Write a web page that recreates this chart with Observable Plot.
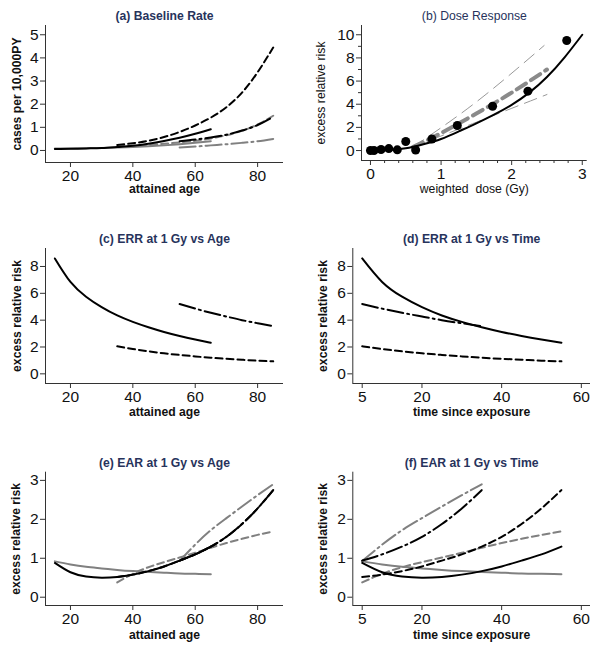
<!DOCTYPE html>
<html><head><meta charset="utf-8">
<script src="https://cdn.jsdelivr.net/npm/d3@7"></script>
<script src="https://cdn.jsdelivr.net/npm/@observablehq/plot@0.6"></script>
<style>
body{margin:0;background:#fff}
#chart{position:relative;width:601px;height:652px;overflow:hidden;background:#fff}
#chart svg{position:absolute;overflow:visible}
</style>
</head><body><div id="chart"></div>
<script>
// ---------- data ----------
const ageSolid   = [15,20,25,30,35,40,45,50,55,60,65];
const ageDashed  = [35,40,45,50,55,60,65,70,75,80,85];
const ageDashDot = [55,60,65,70,75,80,85];
const timeLong   = [5,10,15,20,25,30,35,40,45,50,55];
const timeShort  = [5,10,15,20,25,30,35];

// (a) baseline rate, cases per 10,000 PY
const baseBlackSolid   = [0.06,0.07,0.09,0.11,0.15,0.2,0.29,0.41,0.55,0.72,0.92];
const baseBlackDashed  = [0.24,0.31,0.42,0.58,0.8,1.08,1.42,1.87,2.5,3.38,4.45];
const baseBlackDashDot = [0.4,0.47,0.56,0.68,0.86,1.1,1.45];
const baseGraySolid    = [0.09,0.09,0.1,0.11,0.13,0.15,0.18,0.22,0.27,0.33,0.4];
const baseGrayDashed   = [0.17,0.2,0.24,0.29,0.35,0.42,0.52,0.66,0.85,1.12,1.5];
const baseGrayDashDot  = [0.13,0.17,0.22,0.27,0.33,0.4,0.5];

// (b) dose response
const binDose = [0.0,0.05,0.15,0.26,0.38,0.5,0.64,0.87,1.23,1.73,2.23,2.78];
const binErr  = [0.0,0.0,0.09,0.17,0.06,0.78,0.05,1.0,2.16,3.83,5.13,9.5];
const fitDose = [0,0.25,0.5,0.75,1,1.25,1.5,1.75,2,2.25,2.5,2.75,3];
const fitErr  = [0,0.05,0.2,0.55,1.0,1.65,2.35,3.1,3.95,5.0,6.35,8.05,10];
const linDose = [0.6,1.0,1.5,2.0,2.5];
const linErr  = [0.3,1.5,3.2,5.0,7.0];
const ciHiDose = [0.6,1.5,2.46];
const ciHiErr  = [0.3,4.2,9.07];
const ciLoDose = [0.6,1.5,2.5];
const ciLoErr  = [0.3,2.45,4.84];

// (c),(d) ERR at 1 Gy
const errSolid   = [8.6,6.85,5.75,4.97,4.35,3.87,3.47,3.12,2.82,2.56,2.32];
const errDashed  = [2.05,1.85,1.68,1.53,1.41,1.3,1.2,1.12,1.05,0.98,0.93];
const errDashDot = [5.2,4.86,4.55,4.27,4.0,3.77,3.55];

// (e),(f) EAR at 1 Gy
const earBlackSolid   = [0.88,0.64,0.53,0.5,0.52,0.58,0.67,0.79,0.94,1.1,1.3];
const earBlackDashed  = [0.52,0.58,0.67,0.79,0.94,1.1,1.3,1.55,1.88,2.28,2.75];
const earBlackDashDot = [0.94,1.1,1.3,1.55,1.88,2.28,2.75];
const earGraySolid    = [0.92,0.84,0.78,0.74,0.7,0.67,0.65,0.63,0.61,0.6,0.59];
const earGrayDashed   = [0.38,0.6,0.77,0.9,1.02,1.14,1.27,1.39,1.5,1.6,1.69];
const earGrayDashDot  = [0.93,1.35,1.72,2.03,2.33,2.62,2.9];

// ---------- styling ----------
const NAVY = "#27335c";
const GRAY = "#808080";
const AX = "#333";
const FONT = '"Liberation Sans", Arial, Helvetica, sans-serif';
const DASH = "7,4";
const DASHDOT = "16,4,2,4";
const TICKFS = 15.5;
const fmt = d => String(d);

const pts = (xs, ys) => xs.map((x, i) => ({x, y: ys[i]}));
const line = (xs, ys, stroke, dash, w = 2) =>
  Plot.line(pts(xs, ys), {x: "x", y: "y", stroke, strokeWidth: w, strokeDasharray: dash, curve: "natural"});

function panel(c) {
  const [mt, mr, mb, ml] = c.margins;
  const marks = [
    Plot.ruleY([c.yDomain[0]], {stroke: AX, strokeWidth: 1}),
    Plot.ruleX([c.xDomain[0]], {stroke: AX, strokeWidth: 1}),
    Plot.axisX({ticks: c.xTicks, tickFormat: fmt, tickSize: 5, tickPadding: 2, label: null, fontSize: TICKFS, stroke: AX}),
    Plot.axisY({ticks: c.yTicks, tickFormat: fmt, tickSize: 5, tickPadding: 2, label: null, fontSize: TICKFS, stroke: AX})
  ];
  if (c.xMinor) marks.push(Plot.axisX({ticks: c.xMinor, tickSize: 3, tickFormat: () => "", label: null, stroke: AX}));
  if (c.yMinor) marks.push(Plot.axisY({ticks: c.yMinor, tickSize: 3, tickFormat: () => "", label: null, stroke: AX}));
  marks.push(...c.marks);
  const bold = c.bold ? "bold" : "normal";
  const common = {text: d => d, fontSize: 12.2, fontWeight: bold, textAnchor: "middle", lineAnchor: "middle"};
  marks.push(
    Plot.text([c.title], {...common, frameAnchor: "top", dy: -9.5, fill: NAVY}),
    Plot.text([c.xLabel], {...common, frameAnchor: "bottom", dy: c.xLabelDy, fill: "#111"}),
    Plot.text([c.yLabel], {...common, frameAnchor: "left", dx: c.yLabelDx, rotate: -90, fill: "#111"})
  );
  const svg = Plot.plot({
    width: c.width, height: c.height,
    marginTop: mt, marginRight: mr, marginBottom: mb, marginLeft: ml,
    x: {domain: c.xDomain},
    y: {domain: c.yDomain},
    style: {fontFamily: FONT, fontSize: TICKFS + "px", color: "#111", background: "transparent"},
    marks
  });
  svg.style.left = c.left + "px";
  svg.style.top = c.top + "px";
  document.getElementById("chart").appendChild(svg);
}

// (a)
panel({
  left: 0, top: 0, width: 300, height: 210, margins: [25, 17, 48, 45],
  xDomain: [12, 88.3], yDomain: [-0.52, 5.4],
  xTicks: [20,40,60,80], yTicks: [0,1,2,3,4,5],
  title: "(a) Baseline Rate", xLabel: "attained age", yLabel: "cases per 10,000PY", bold: true,
  xLabelDy: 27, yLabelDx: -28.8,
  marks: [
    line(ageSolid, baseGraySolid, GRAY, null),
    line(ageDashed, baseGrayDashed, GRAY, DASH),
    line(ageDashDot, baseGrayDashDot, GRAY, DASHDOT),
    line(ageSolid, baseBlackSolid, "black", null),
    line(ageDashed, baseBlackDashed, "black", DASH),
    line(ageDashDot, baseBlackDashDot, "black", DASHDOT)
  ]
});

// (b)
panel({
  left: 300, top: 0, width: 301, height: 210, margins: [25, 14.3, 50, 61],
  xDomain: [-0.127, 3.07], yDomain: [-0.86, 10.8],
  xTicks: [0,1,2,3], yTicks: [0,2,4,6,8,10],
  xMinor: [0.2,0.4,0.6,0.8,1.2,1.4,1.6,1.8,2.2,2.4,2.6,2.8], yMinor: [1,3,5,7,9],
  title: "(b) Dose Response", xLabel: "weighted\u00a0\u00a0dose (Gy)", yLabel: "excess relative risk", bold: false,
  xLabelDy: 29, yLabelDx: -40.8,
  marks: [
    line(ciHiDose, ciHiErr, "#999", "13,7", 1),
    line(ciLoDose, ciLoErr, "#999", "13,7", 1),
    line(linDose, linErr, "#8a8a8a", "11,6", 4),
    line(fitDose, fitErr, "black", null, 2),
    Plot.dot(pts(binDose, binErr), {x: "x", y: "y", r: 4.5, fill: "black", stroke: "none"})
  ]
});

// (c)
panel({
  left: 0, top: 210, width: 300, height: 210, margins: [38, 17, 37, 45],
  xDomain: [12, 88.3], yDomain: [-0.72, 9.34],
  xTicks: [20,40,60,80], yTicks: [0,2,4,6,8],
  title: "(c) ERR at 1 Gy vs Age", xLabel: "attained age", yLabel: "excess relative risk", bold: true,
  xLabelDy: 29, yLabelDx: -28.8,
  marks: [
    line(ageSolid, errSolid, "black", null),
    line(ageDashed, errDashed, "black", DASH),
    line(ageDashDot, errDashDot, "black", DASHDOT)
  ]
});

// (d)
panel({
  left: 300, top: 210, width: 301, height: 210, margins: [38, 11, 37, 52.3],
  xDomain: [2.64, 62.3], yDomain: [-0.72, 9.34],
  xTicks: [5,20,40,60], yTicks: [0,2,4,6,8],
  title: "(d) ERR at 1 Gy vs Time", xLabel: "time since exposure", yLabel: "excess relative risk", bold: true,
  xLabelDy: 29, yLabelDx: -30.1,
  marks: [
    line(timeLong, errSolid, "black", null),
    line(timeLong, errDashed, "black", DASH),
    line(timeShort, errDashDot, "black", DASHDOT)
  ]
});

// (e)
panel({
  left: 0, top: 420, width: 300, height: 232, margins: [51.7, 17, 47, 45],
  xDomain: [12, 88.3], yDomain: [-0.213, 3.21],
  xTicks: [20,40,60,80], yTicks: [0,1,2,3],
  title: "(e) EAR at 1 Gy vs Age", xLabel: "attained age", yLabel: "excess relative risk", bold: true,
  xLabelDy: 30, yLabelDx: -29.3,
  marks: [
    line(ageSolid, earGraySolid, GRAY, null),
    line(ageDashed, earGrayDashed, GRAY, DASH),
    line(ageDashDot, earGrayDashDot, GRAY, DASHDOT),
    line(ageDashed, earBlackDashed, "black", DASH),
    line(ageDashDot, earBlackDashDot, "black", DASHDOT),
    line(ageSolid, earBlackSolid, "black", null)
  ]
});

// (f)
panel({
  left: 300, top: 420, width: 301, height: 232, margins: [51.7, 11, 47, 52.3],
  xDomain: [2.64, 62.3], yDomain: [-0.213, 3.21],
  xTicks: [5,20,40,60], yTicks: [0,1,2,3],
  title: "(f) EAR at 1 Gy vs Time", xLabel: "time since exposure", yLabel: "excess relative risk", bold: true,
  xLabelDy: 30, yLabelDx: -30.1,
  marks: [
    line(timeLong, earGraySolid, GRAY, null),
    line(timeLong, earGrayDashed, GRAY, DASH),
    line(timeShort, earGrayDashDot, GRAY, DASHDOT),
    line(timeLong, earBlackSolid, "black", null),
    line(timeLong, earBlackDashed, "black", DASH),
    line(timeShort, earBlackDashDot, "black", DASHDOT)
  ]
});
</script>
</body></html>
